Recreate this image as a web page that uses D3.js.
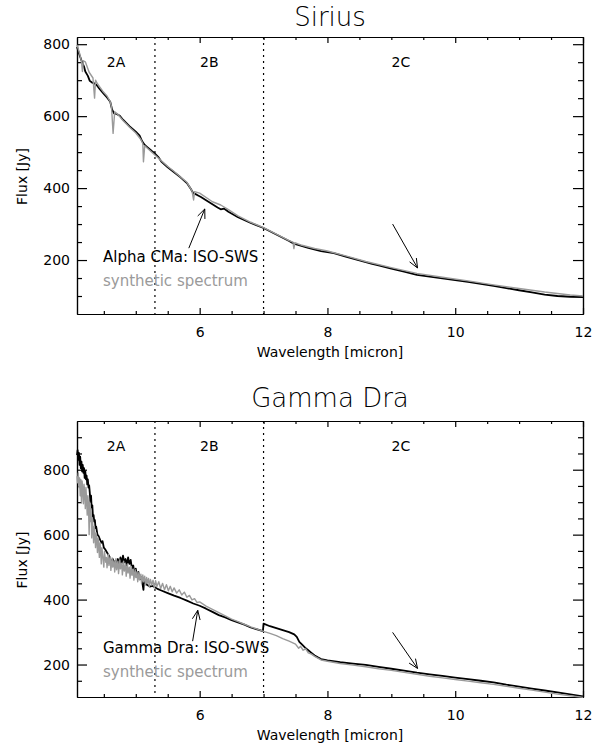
<!DOCTYPE html>
<html>
<head>
<meta charset="utf-8">
<script src="https://cdn.jsdelivr.net/npm/d3@7"></script>
<style>
	body { margin: 0; background: white; }
	text { font-family: "DejaVu Sans", sans-serif; }
	.title { font-size: 26px; font-weight: 200; }
	.tick text { font-size: 14px; }
	.axis-label { font-size: 14px; }
	.band-label { font-size: 14px; }
	.legend-text { font-size: 15px; }
</style>
</head>
<body>
<div id="chart"></div>
<script>

//Wavelength [micron], flux [Jy]
var siriusIso = [
	[4.08,792],[4.12,770],[4.16,750],[4.19,738],[4.21,724],[4.25,712],[4.28,698],[4.31,694],[4.34,692],[4.37,689],
	[4.39,686],[4.44,674],[4.50,662],[4.55,652],[4.60,640],[4.63,618],[4.66,608],[4.70,606],[4.75,601],[4.80,590],
	[4.90,572],[5.00,557],[5.06,546],[5.10,530],[5.14,520],[5.18,514],[5.25,503],[5.30,496],[5.35,487],[5.40,474],
	[5.50,458],[5.60,444],[5.70,430],[5.80,414],[5.86,398],[5.90,386],[5.96,381],[6.02,375],[6.10,366],[6.20,355],
	[6.28,346],[6.33,341],[6.38,343],[6.45,334],[6.60,319],[6.80,303],[7.00,289],[7.20,271],[7.40,253],[7.46,247],
	[7.50,244],[7.70,234],[7.90,225],[8.10,219],[8.30,209],[8.50,199],[8.70,189],[8.80,185],[9.00,176],[9.20,168],
	[9.40,159],[9.60,154],[9.80,149],[10.00,144],[10.20,139],[10.40,134],[10.60,128],[10.80,122],[11.00,116],[11.20,110],
	[11.40,104],[11.60,100],[11.80,98],[12.00,97]
];

var siriusSynth = [
	[4.08,798],[4.12,775],[4.15,752],[4.165,724],[4.18,754],[4.21,751],[4.27,722],[4.33,706],[4.355,650],[4.37,700],
	[4.40,690],[4.48,670],[4.55,656],[4.60,640],[4.62,626],[4.645,552],[4.67,612],[4.72,605],[4.80,588],[4.90,570],
	[5.00,553],[5.08,535],[5.11,524],[5.12,473],[5.14,518],[5.20,508],[5.30,492],[5.40,476],[5.50,460],[5.60,446],
	[5.70,431],[5.80,416],[5.88,392],[5.905,367],[5.92,390],[6.00,386],[6.20,362],[6.33,353],[6.45,340],[6.60,323],
	[6.80,305],[7.00,290],[7.20,272],[7.40,254],[7.46,250],[7.475,232],[7.49,248],[7.60,241],[7.80,232],[8.00,225],
	[8.30,211],[8.60,196],[9.00,179],[9.40,163],[9.80,152],[10.20,142],[10.60,131],[11.00,121],[11.40,111],[11.80,103],
	[12.00,100]
];

var gdraIso = [
	[4.08,845],[4.09,860],[4.10,830],[4.11,852],[4.12,815],[4.13,840],[4.14,805],[4.15,825],[4.16,795],[4.17,815],
	[4.18,790],[4.19,805],[4.20,775],[4.21,795],[4.22,770],[4.23,782],[4.24,755],[4.25,770],[4.26,745],[4.27,752],
	[4.28,730],[4.29,700],[4.30,720],[4.31,680],[4.32,690],[4.33,655],[4.34,660],[4.35,640],[4.36,645],[4.37,620],
	[4.38,625],[4.40,600],[4.42,595],[4.44,585],[4.46,575],[4.48,580],[4.50,560],[4.52,555],[4.55,545],[4.58,535],
	[4.60,525],[4.62,515],[4.64,525],[4.66,505],[4.68,520],[4.70,510],[4.72,525],[4.74,505],[4.76,530],[4.78,512],
	[4.80,535],[4.82,515],[4.84,525],[4.86,505],[4.88,530],[4.90,510],[4.92,522],[4.94,495],[4.96,505],[4.98,480],
	[5.00,495],[5.02,470],[5.04,485],[5.06,462],[5.08,470],[5.10,455],[5.12,430],[5.13,460],[5.15,450],[5.18,445],
	[5.22,440],[5.26,442],[5.30,438],[5.35,432],[5.40,428],[5.50,420],[5.60,412],[5.70,405],[5.80,397],[5.90,388],
	[6.00,381],[6.10,372],[6.20,362],[6.30,352],[6.40,345],[6.50,337],[6.60,330],[6.70,323],[6.80,314],[6.90,308],
	[6.99,303],[7.00,326],[7.10,318],[7.20,312],[7.30,306],[7.40,300],[7.48,293],[7.52,285],[7.56,270],[7.60,262],
	[7.65,252],[7.70,244],[7.75,236],[7.80,228],[7.85,222],[7.90,217],[8.00,213],[8.20,207],[8.40,203],[8.60,199],
	[8.80,193],[9.00,187],[9.20,181],[9.40,175],[9.60,170],[9.80,165],[10.00,160],[10.20,155],[10.40,150],[10.60,145],
	[10.80,138],[11.00,132],[11.20,126],[11.40,120],[11.60,114],[11.80,108],[12.00,102]
];

var gdraSynth = [
	[4.08,780],[4.09,760],[4.10,790],[4.11,745],[4.12,775],[4.13,720],[4.14,770],[4.15,700],[4.16,765],[4.17,740],
	[4.18,695],[4.19,755],[4.20,730],[4.21,680],[4.22,745],[4.23,705],[4.24,660],[4.25,720],[4.26,690],[4.27,600],
	[4.28,700],[4.29,640],[4.30,680],[4.31,590],[4.32,650],[4.33,620],[4.34,575],[4.35,625],[4.36,600],[4.37,560],
	[4.38,605],[4.39,585],[4.40,545],[4.41,590],[4.42,565],[4.43,530],[4.44,575],[4.45,550],[4.46,510],[4.47,560],
	[4.48,540],[4.50,500],[4.51,548],[4.53,515],[4.54,530],[4.55,498],[4.57,540],[4.58,505],[4.60,532],[4.61,490],
	[4.63,528],[4.64,500],[4.66,520],[4.67,485],[4.69,526],[4.70,492],[4.72,518],[4.73,480],[4.75,522],[4.76,495],
	[4.78,512],[4.79,476],[4.81,518],[4.82,488],[4.84,508],[4.85,472],[4.87,510],[4.88,482],[4.90,500],[4.91,466],
	[4.93,502],[4.94,475],[4.96,494],[4.97,460],[4.99,492],[5.00,468],[5.02,486],[5.03,455],[5.05,484],[5.06,462],
	[5.08,478],[5.09,450],[5.11,476],[5.12,455],[5.14,472],[5.15,445],[5.17,468],[5.18,450],[5.20,465],[5.21,440],
	[5.23,462],[5.25,445],[5.27,460],[5.29,436],[5.31,458],[5.33,440],[5.36,455],[5.39,434],[5.42,450],[5.45,430],
	[5.48,446],[5.51,427],[5.54,441],[5.57,424],[5.60,436],[5.64,420],[5.68,430],[5.72,414],[5.76,423],[5.80,407],
	[5.84,413],[5.88,399],[5.92,403],[5.96,391],[6.00,393],[6.10,380],[6.20,370],[6.30,360],[6.40,350],[6.50,340],
	[6.60,332],[6.70,324],[6.80,316],[6.90,309],[7.00,302],[7.10,296],[7.20,289],[7.30,280],[7.40,272],[7.50,263],
	[7.55,250],[7.58,256],[7.62,244],[7.66,248],[7.70,236],[7.75,232],[7.80,225],[7.90,214],[8.00,210],[8.20,203],
	[8.40,198],[8.60,193],[8.80,187],[9.00,182],[9.20,176],[9.40,170],[9.60,164],[9.80,159],[10.00,154],[10.20,149],
	[10.40,144],[10.60,139],[10.80,133],[11.00,127],[11.20,121],[11.40,115],[11.60,109],[11.80,104],[12.00,99]
];

//Band edges and labels
var bandEdges = [5.3, 7.0];
var bandNames = ["2A", "2B", "2C"];
var bandLabelWave = [4.69, 6.15, 9.15];

//Ticks
var xTicks = [6, 8, 10, 12];
var xMinorTicks = [4.5, 5, 5.5, 6.5, 7, 7.5, 8.5, 9, 9.5, 10.5, 11, 11.5];
var yTicks = [200, 400, 600, 800];
var yMinorTicksSirius = [100, 150, 250, 300, 350, 450, 500, 550, 650, 700, 750];
var yMinorTicksGdra = [150, 250, 300, 350, 450, 500, 550, 650, 700, 750, 850, 900];

//Arrows (from, to) in data units
var siriusArrows = [[[5.83, 233], [6.08, 342]], [[9.02, 300], [9.41, 178]]];
var gdraArrows = [[[5.89, 272], [5.97, 367]], [[9.02, 299], [9.41, 188]]];

var width = 609;
var height = 746;

var svg = d3.select("#chart")
	.append("svg")
	.attr("width", width)
	.attr("height", height);

drawPanel({
	title: "Sirius", titleY: 26, top: 37, bottom: 314,
	yDomain: [50, 820], yMinor: yMinorTicksSirius,
	iso: siriusIso, synth: siriusSynth, arrows: siriusArrows,
	legend: "Alpha CMa: ISO-SWS", legendY: 262
});

drawPanel({
	title: "Gamma Dra", titleY: 407, top: 421, bottom: 697,
	yDomain: [100, 950], yMinor: yMinorTicksGdra,
	iso: gdraIso, synth: gdraSynth, arrows: gdraArrows,
	legend: "Gamma Dra: ISO-SWS", legendY: 653
});

function drawPanel(p) {

	///////////////////////////////////////////////////////////////////////////
	//////////////////////////////// Scales ///////////////////////////////////
	///////////////////////////////////////////////////////////////////////////

	var left = 77, right = 583;

	var x = d3.scaleLinear().domain([4.08, 12]).range([left, right]);
	var y = d3.scaleLinear().domain(p.yDomain).range([p.bottom, p.top]);

	var g = svg.append("g");

	///////////////////////////////////////////////////////////////////////////
	///////////////////////////////// Axes ////////////////////////////////////
	///////////////////////////////////////////////////////////////////////////

	//IDL style, ticks pointing inwards on all four sides
	g.append("g")
		.attr("transform", "translate(0," + p.bottom + ")")
		.call(d3.axisBottom(x).tickValues(xTicks).tickSize(-6).tickSizeOuter(0).tickPadding(13).tickFormat(d3.format("d")));
	g.append("g")
		.attr("transform", "translate(0," + p.bottom + ")")
		.call(d3.axisBottom(x).tickValues(xMinorTicks).tickSize(-3).tickSizeOuter(0).tickFormat(""));
	g.append("g")
		.attr("transform", "translate(0," + p.top + ")")
		.call(d3.axisTop(x).tickValues(xTicks).tickSize(-6).tickSizeOuter(0).tickFormat(""));
	g.append("g")
		.attr("transform", "translate(0," + p.top + ")")
		.call(d3.axisTop(x).tickValues(xMinorTicks).tickSize(-3).tickSizeOuter(0).tickFormat(""));

	g.append("g")
		.attr("transform", "translate(" + left + ",0)")
		.call(d3.axisLeft(y).tickValues(yTicks).tickSize(-10).tickSizeOuter(0).tickPadding(7).tickFormat(d3.format("d")));
	g.append("g")
		.attr("transform", "translate(" + left + ",0)")
		.call(d3.axisLeft(y).tickValues(p.yMinor).tickSize(-5).tickSizeOuter(0).tickFormat(""));
	g.append("g")
		.attr("transform", "translate(" + right + ",0)")
		.call(d3.axisRight(y).tickValues(yTicks).tickSize(-10).tickSizeOuter(0).tickFormat(""));
	g.append("g")
		.attr("transform", "translate(" + right + ",0)")
		.call(d3.axisRight(y).tickValues(p.yMinor).tickSize(-5).tickSizeOuter(0).tickFormat(""));

	g.selectAll(".domain").attr("stroke", "black").attr("stroke-width", 1.2);
	g.selectAll(".tick line").attr("stroke", "black").attr("stroke-width", 1.2);
	g.selectAll(".tick text").attr("fill", "black");

	///////////////////////////////////////////////////////////////////////////
	////////////////////////////// Band edges /////////////////////////////////
	///////////////////////////////////////////////////////////////////////////

	g.selectAll(".band-edge")
		.data(bandEdges)
		.enter().append("line")
		.attr("class", "band-edge")
		.attr("x1", function(d) { return x(d); })
		.attr("x2", function(d) { return x(d); })
		.attr("y1", p.top)
		.attr("y2", p.bottom)
		.style("stroke", "black")
		.style("stroke-width", 1.2)
		.style("stroke-dasharray", "2,4");

	g.selectAll(".band-label")
		.data(bandNames)
		.enter().append("text")
		.attr("class", "band-label")
		.attr("x", function(d, i) { return x(bandLabelWave[i]); })
		.attr("y", p.top + 30)
		.style("text-anchor", "middle")
		.text(function(d) { return d; });

	///////////////////////////////////////////////////////////////////////////
	//////////////////////////////// Spectra //////////////////////////////////
	///////////////////////////////////////////////////////////////////////////

	var line = d3.line()
		.x(function(d) { return x(d[0]); })
		.y(function(d) { return y(d[1]); });

	g.append("path")
		.datum(p.iso)
		.attr("d", line)
		.style("fill", "none")
		.style("stroke", "black")
		.style("stroke-width", 1.8)
		.style("stroke-linejoin", "round");

	g.append("path")
		.datum(p.synth)
		.attr("d", line)
		.style("fill", "none")
		.style("stroke", "#9a9a9a")
		.style("stroke-width", 1.4)
		.style("stroke-linejoin", "round");

	///////////////////////////////////////////////////////////////////////////
	//////////////////////////////// Arrows ///////////////////////////////////
	///////////////////////////////////////////////////////////////////////////

	p.arrows.forEach(function(a) {
		var x0 = x(a[0][0]), y0 = y(a[0][1]);
		var x1 = x(a[1][0]), y1 = y(a[1][1]);
		var ang = Math.atan2(y1 - y0, x1 - x0);
		var head = 10, spread = 0.4;
		var path = "M" + x0 + "," + y0 + "L" + x1 + "," + y1 +
			"M" + (x1 - head * Math.cos(ang - spread)) + "," + (y1 - head * Math.sin(ang - spread)) +
			"L" + x1 + "," + y1 +
			"L" + (x1 - head * Math.cos(ang + spread)) + "," + (y1 - head * Math.sin(ang + spread));
		g.append("path")
			.attr("d", path)
			.style("fill", "none")
			.style("stroke", "black")
			.style("stroke-width", 1);
	});

	///////////////////////////////////////////////////////////////////////////
	///////////////////////////////// Texts ///////////////////////////////////
	///////////////////////////////////////////////////////////////////////////

	g.append("text")
		.attr("class", "title")
		.attr("x", 330)
		.attr("y", p.titleY)
		.style("text-anchor", "middle")
		.text(p.title);

	g.append("text")
		.attr("class", "axis-label")
		.attr("x", 330)
		.attr("y", p.bottom + 43)
		.style("text-anchor", "middle")
		.text("Wavelength [micron]");

	g.append("text")
		.attr("class", "axis-label")
		.attr("transform", "translate(27," + ((p.top + p.bottom) / 2 + 1) + ") rotate(-90)")
		.style("text-anchor", "middle")
		.text("Flux [Jy]");

	g.append("text")
		.attr("class", "legend-text")
		.attr("x", 103)
		.attr("y", p.legendY)
		.style("fill", "black")
		.text(p.legend);

	g.append("text")
		.attr("class", "legend-text")
		.attr("x", 103)
		.attr("y", p.legendY + 24)
		.style("fill", "#9a9a9a")
		.text("synthetic spectrum");

}//drawPanel

</script>
</body>
</html>
